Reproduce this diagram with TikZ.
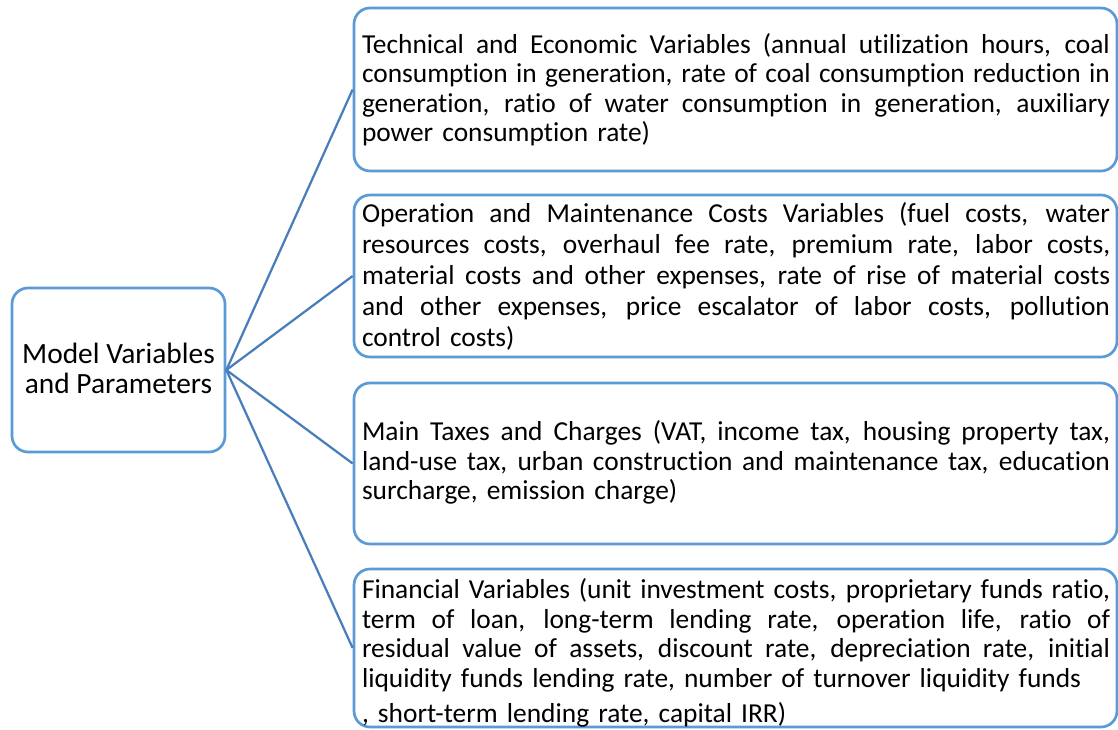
\documentclass[tikz,border=0pt]{standalone}
\usepackage{fontspec}
\setmainfont{Carlito}[Ligatures=NoCommon]

\newlength{\du}
\setlength{\du}{15\unitlength}
\newlength{\textw}
\setlength{\textw}{748pt}

\definecolor{boxcolor}{rgb}{0.356863, 0.607843, 0.835294}
\definecolor{linkcolor}{rgb}{0.290196, 0.494118, 0.733333}

\tikzset{
  varbox/.style={draw=boxcolor, fill=white, line width=0.180000\du, rounded corners=1.066667\du, inner sep=0pt},
  vartext/.style={text width=\textw, align=left, inner sep=0pt, font=\fontsize{27.4}{29.5}\selectfont},
  link/.style={draw=linkcolor, line width=0.150000\du}
}

% one justified line, spaces spread evenly to the full width
\newcommand{\jline}[1]{\leavevmode\hbox to\textw{\spaceskip=\fontdimen2\font plus 1fil minus \fontdimen4\font
  \xspaceskip=\spaceskip #1}\\}

\begin{document}
\begin{tikzpicture}
\pgftransformxscale{1.000000}
\pgftransformyscale{-1.000000}
\useasboundingbox (0.000000\du,0.000000\du) rectangle (74.533333\du,48.666667\du);
% boxes
\node[varbox, minimum width=14.200000\du, minimum height=10.933333\du] (model) at (7.900000\du,24.666667\du) {};
\node[varbox, minimum width=50.866667\du, minimum height=10.866667\du] (techvar) at (49.033333\du,5.966667\du) {};
\node[varbox, minimum width=50.866667\du, minimum height=10.800000\du] (omvar) at (49.033333\du,18.400000\du) {};
\node[varbox, minimum width=50.866667\du, minimum height=10.733333\du] (taxvar) at (49.033333\du,30.900000\du) {};
\node[varbox, minimum width=50.866667\du, minimum height=10.533333\du] (finvar) at (49.033333\du,43.200000\du) {};
% connectors
\draw[link] (model.east) -- (techvar.west);
\draw[link] (model.east) -- (omvar.west);
\draw[link] (model.east) -- (taxvar.west);
\draw[link] (model.east) -- (finvar.west);
% texts
\node[align=center, inner sep=0pt, font=\fontsize{29.4}{30}\selectfont] (modeltext) at (7.900000\du,24.566667\du) {Model Variables\\and Parameters};
\node[vartext] (techtext) at (49.066667\du,5.966667\du) {\noindent
\jline{Technical and Economic Variables (annual utilization hours, coal}
\jline{consumption in generation, rate of coal consumption reduction in}
\jline{generation, ratio of water consumption in generation, auxiliary}
power consumption rate)};
\node[vartext, font=\fontsize{27.4}{31}\selectfont] (omtext) at (49.066667\du,18.400000\du) {\noindent
\jline{Operation and Maintenance Costs Variables (fuel costs, water}
\jline{resources costs, overhaul fee rate, premium rate, labor costs,}
\jline{material costs and other expenses, rate of rise of material costs}
\jline{and other expenses, price escalator of labor costs, pollution}
control costs)};
\node[vartext] (taxtext) at (49.066667\du,30.833333\du) {\noindent
\jline{Main Taxes and Charges (VAT, income tax, housing property tax,}
\jline{land-use tax, urban construction and maintenance tax, education}
surcharge, emission charge)};
\node[vartext] (fintext) at (49.066667\du,43.533333\du) {\noindent
\jline{Financial Variables (unit investment costs, proprietary funds ratio,}
\jline{term of loan, long-term lending rate, operation life, ratio of}
\jline{residual value of assets, discount rate, depreciation rate, initial}
liquidity funds lending rate, number of turnover liquidity funds\\[6pt]
, short-term lending rate, capital IRR)};
\end{tikzpicture}
\end{document}
